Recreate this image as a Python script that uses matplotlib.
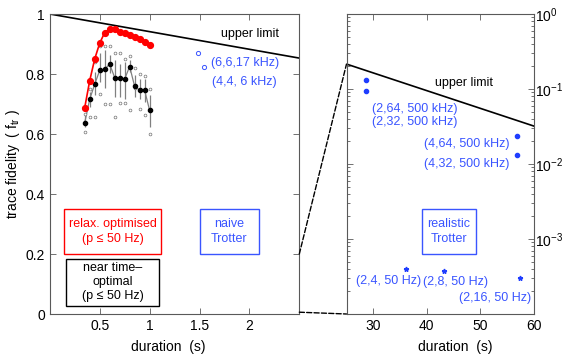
import matplotlib
matplotlib.use("Agg")
import matplotlib.pyplot as plt
from matplotlib.patches import Rectangle, ConnectionPatch
import numpy as np

plt.rcParams['font.family'] = ['Liberation Sans', 'DejaVu Sans']
plt.rcParams['mathtext.default'] = 'regular'

# ---------------- data ----------------
dur = [0.35, 0.40, 0.45, 0.50, 0.55, 0.60, 0.65, 0.70, 0.75, 0.80, 0.85, 0.90, 0.95, 1.00]
relax_opt = [0.688, 0.778, 0.850, 0.903, 0.938, 0.950, 0.949, 0.941, 0.936, 0.930,
             0.922, 0.916, 0.907, 0.898]
near_mean = [0.638, 0.716, 0.766, 0.812, 0.816, 0.833, 0.788, 0.786, 0.783, 0.825,
             0.759, 0.746, 0.746, 0.679]
near_err_hi = [0.664, 0.739, 0.807, 0.869, 0.880, 0.864, 0.846, 0.835, 0.840, 0.848,
               0.796, 0.785, 0.785, 0.729]
near_err_lo = [0.624, 0.690, 0.729, 0.774, 0.752, 0.802, 0.724, 0.724, 0.718, 0.807,
               0.724, 0.718, 0.707, 0.623]
near_max = [0.668, 0.750, 0.840, 0.895, 0.893, 0.892, 0.870, 0.870, 0.850, 0.860,
            0.820, 0.800, 0.795, 0.750]
near_min = [0.606, 0.657, 0.657, 0.735, 0.701, 0.701, 0.656, 0.704, 0.704, 0.680,
            0.752, 0.683, 0.662, 0.600]

naive_dur = [1.48, 1.55]
naive_fid = [0.871, 0.823]
naive_labels = ["(6,6,17 kHz)", "(4,4, 6 kHz)"]

upper_left_t = [0.0, 2.5]
upper_left_f = [1.0, 0.853]
upper_right_t = [25.0, 60.0]
upper_right_f = [0.215, 0.032]

real500_dur = [28.6, 28.6, 56.75, 56.75]
real500_fid = [0.130, 0.0944, 0.0234, 0.01315]
real500_labels = ["(2,64, 500 kHz)", "(2,32, 500 kHz)", "(4,64, 500 kHz)", "(4,32, 500 kHz)"]

real50_dur = [36.1, 43.2, 57.4]
real50_fid = [3.94e-4, 3.70e-4, 2.98e-4]
real50_labels = ["(2,4, 50 Hz)", "(2,8, 50 Hz)", "(2,16, 50 Hz)"]

left_xticks = [0.5, 1, 1.5, 2]
left_xticklabels = ["0.5", "1", "1.5", "2"]
left_yticks = [0, 0.2, 0.4, 0.6, 0.8, 1]
left_yticklabels = ["0", "0.2", "0.4", "0.6", "0.8", "1"]
right_xticks = [30, 40, 50, 60]

# ---------------- styling ----------------
BLUE = '#3a55ff'
BLUE_DOT = '#1f3dff'
SPINE = '0.35'
FS_TICK = 10
FS_TXT = 9

fig = plt.figure(figsize=(5.66, 3.54), dpi=100)
ax1 = fig.add_axes([49.8 / 566, 40 / 354, 249.5 / 566, 300 / 354])
ax2 = fig.add_axes([346.5 / 566, 40 / 354, 187.5 / 566, 300 / 354])

for ax in (ax1, ax2):
    for s in ax.spines.values():
        s.set_color(SPINE)
        s.set_linewidth(0.8)
    ax.tick_params(which='both', direction='in', top=True, right=True,
                   color=SPINE, labelsize=FS_TICK, width=0.6)
    ax.tick_params(which='major', length=4)
    ax.tick_params(which='minor', length=2)

# ---- left panel ----
ax1.set_xlim(0, 2.5)
ax1.set_ylim(0, 1)
ax1.set_xticks(left_xticks)
ax1.set_xticklabels(left_xticklabels)
ax1.set_yticks(left_yticks)
ax1.set_yticklabels(left_yticklabels)

ax1.plot(upper_left_t, upper_left_f, color='black', lw=1.2, zorder=2)
ax1.text(2.3, 0.932, "upper limit", fontsize=FS_TXT, ha='right', va='center')

# near time-optimal
yerr = [np.array(near_mean) - np.array(near_err_lo), np.array(near_err_hi) - np.array(near_mean)]
ax1.errorbar(dur, near_mean, yerr=yerr, fmt='none', ecolor='0.5', elinewidth=0.9,
             capsize=0, zorder=3)
ax1.plot(dur, near_mean, color='0.5', lw=0.9, zorder=3)
ax1.plot(dur, near_mean, 'o', color='black', ms=3.0, zorder=4)
ax1.plot(dur, near_max, 'o', mfc='white', mec='0.45', ms=2.0, mew=0.5, ls='none', zorder=3)
ax1.plot(dur, near_min, 'o', mfc='white', mec='0.45', ms=2.0, mew=0.5, ls='none', zorder=3)

# relaxation optimised
ax1.plot(dur, relax_opt, '-o', color='red', lw=1.2, ms=4.2, zorder=5)

# naive Trotter
ax1.plot(naive_dur, naive_fid, 'o', mfc='none', mec=BLUE, ms=3.0, mew=0.7, ls='none')
ax1.text(1.62, 0.838, naive_labels[0], color=BLUE, fontsize=FS_TXT, ha='left', va='center')
ax1.text(1.63, 0.775, naive_labels[1], color=BLUE, fontsize=FS_TXT, ha='left', va='center')

# boxes
ax1.add_patch(Rectangle((0.146, 0.200), 1.111 - 0.146, 0.351 - 0.200, fill=False,
                        edgecolor='red', lw=1.0, zorder=6))
ax1.text(0.628, 0.276, "relax. optimised\n(p \u2264 50 Hz)", color='red', fontsize=FS_TXT,
         ha='center', va='center', linespacing=1.3)
ax1.add_patch(Rectangle((0.160, 0.028), 1.097 - 0.160, 0.184 - 0.028, fill=False,
                        edgecolor='black', lw=1.0, zorder=6))
ax1.text(0.628, 0.106, "near time\u2013\noptimal\n(p \u2264 50 Hz)", color='black',
         fontsize=FS_TXT, ha='center', va='center', linespacing=1.25)
ax1.add_patch(Rectangle((1.50, 0.200), 0.60, 0.151, fill=False,
                        edgecolor=BLUE, lw=1.0, zorder=6))
ax1.text(1.80, 0.276, "naive\nTrotter", color=BLUE, fontsize=FS_TXT,
         ha='center', va='center', linespacing=1.3)

ax1.set_xlabel("duration  (s)", fontsize=FS_TICK)
ax1.xaxis.set_label_coords(0.474, -0.085)
ax1.set_ylabel("trace fidelity  ( f$_{tr}$ )", fontsize=FS_TICK)
ax1.yaxis.set_label_coords(-0.112, 0.5)

# ---- right panel ----
ax2.set_yscale('log')
ax2.set_xlim(25, 60)
ax2.set_ylim(1e-4, 1)
ax2.set_xticks(right_xticks)
ax2.set_yticks([1e-3, 1e-2, 1e-1, 1e0])
ax2.yaxis.tick_right()
ax2.tick_params(which='both', left=True, right=True, labelleft=False, labelright=True)
ax2.tick_params(axis='y', which='major', pad=1)

ax2.plot(upper_right_t, upper_right_f, color='black', lw=1.2)
ax2.text(41.5, 0.122, "upper limit", fontsize=FS_TXT, ha='left', va='center')

ax2.plot(real500_dur, real500_fid, 'o', color=BLUE_DOT, ms=3.0, ls='none')
ax2.text(29.7, 0.0537, real500_labels[0], color=BLUE, fontsize=FS_TXT, ha='left', va='center')
ax2.text(29.7, 0.0363, real500_labels[1], color=BLUE, fontsize=FS_TXT, ha='left', va='center')
ax2.text(39.5, 0.0187, real500_labels[2], color=BLUE, fontsize=FS_TXT, ha='left', va='center')
ax2.text(39.5, 0.00988, real500_labels[3], color=BLUE, fontsize=FS_TXT, ha='left', va='center')

ax2.plot(real50_dur, real50_fid, '*', color=BLUE_DOT, ms=3.5, ls='none')
ax2.text(26.8, 2.78e-4, real50_labels[0], color=BLUE, fontsize=FS_TXT, ha='left', va='center')
ax2.text(39.3, 2.65e-4, real50_labels[1], color=BLUE, fontsize=FS_TXT, ha='left', va='center')
ax2.text(46.0, 1.63e-4, real50_labels[2], color=BLUE, fontsize=FS_TXT, ha='left', va='center')

ax2.add_patch(Rectangle((39.1, 6.3e-4), 49.2 - 39.1, 2.5e-3 - 6.3e-4, fill=False,
                        edgecolor=BLUE, lw=1.0))
ax2.text(44.15, 1.26e-3, "realistic\nTrotter", color=BLUE, fontsize=FS_TXT,
         ha='center', va='center', linespacing=1.3)

ax2.set_xlabel("duration  (s)", fontsize=FS_TICK)
ax2.xaxis.set_label_coords(0.581, -0.085)

# ---- connecting dashed lines ----
for (x1, y1), (x2, y2) in [((2.5, 0.2), (25, upper_right_f[0])), ((2.5, 0.006), (25, 1e-4))]:
    con = ConnectionPatch(xyA=(x1, y1), coordsA=ax1.transData,
                          xyB=(x2, y2), coordsB=ax2.transData,
                          linestyle='--', color='black', lw=1.0)
    fig.add_artist(con)

fig.savefig("out.png", dpi=100)
